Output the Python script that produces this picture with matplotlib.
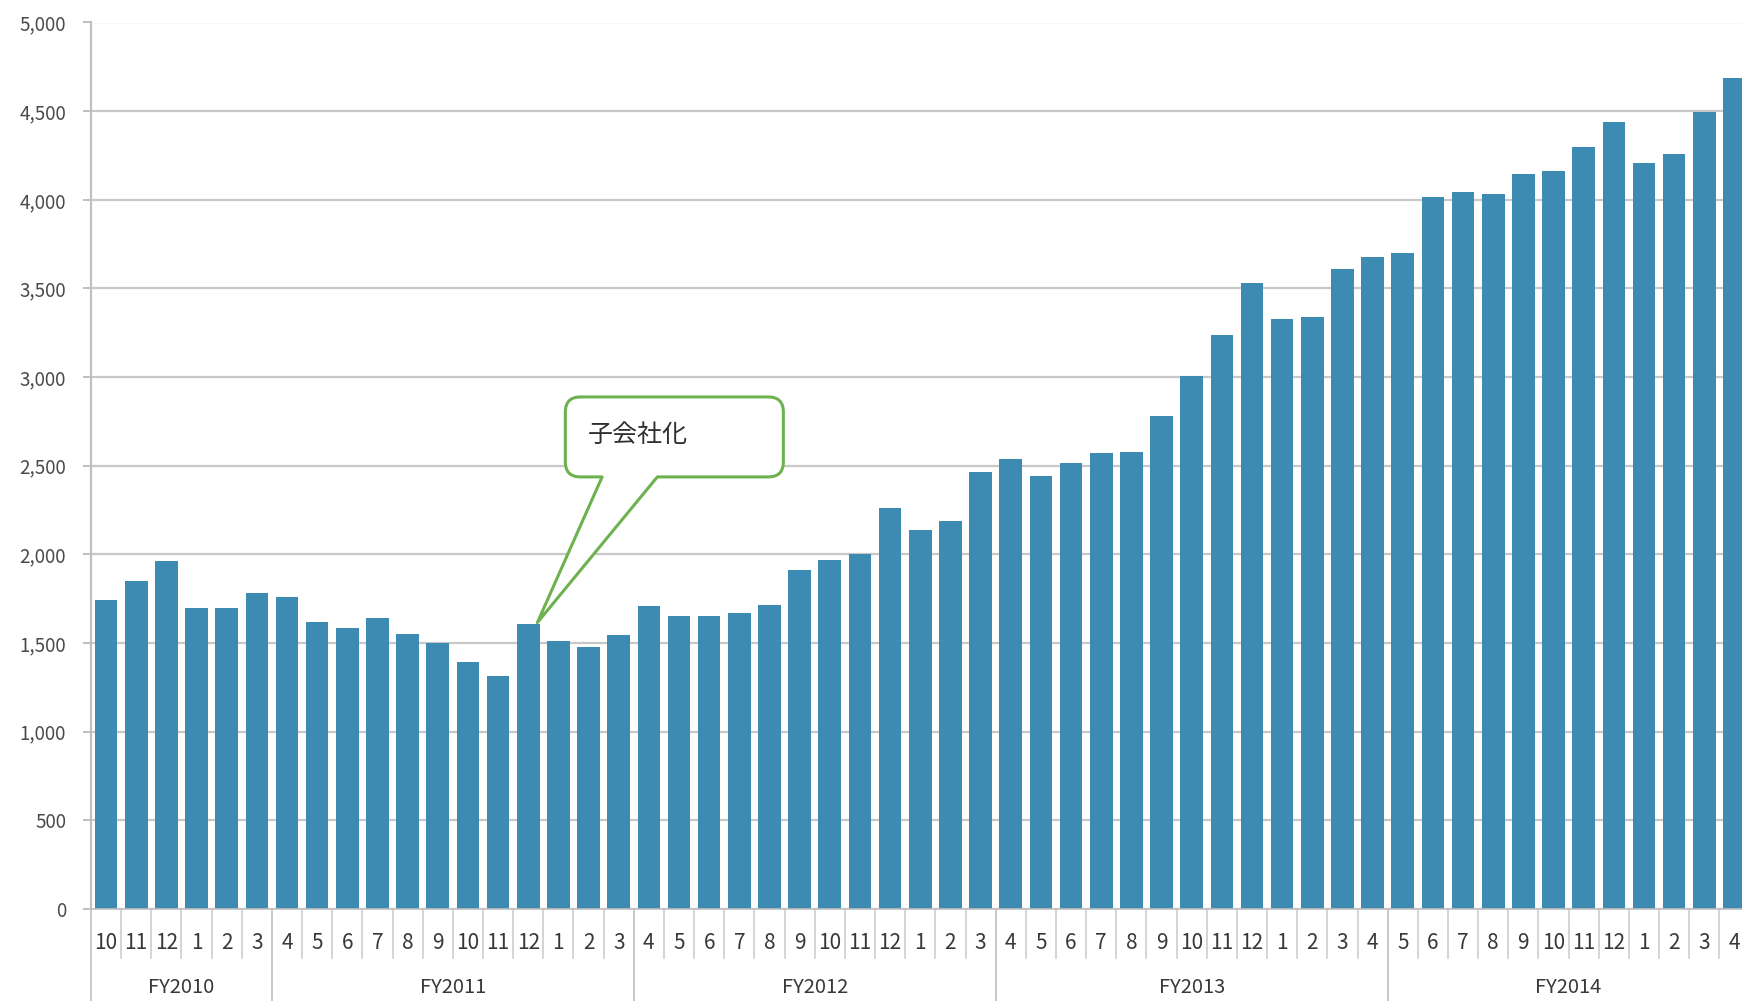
import numpy as np
import matplotlib
matplotlib.use('Agg')
import matplotlib.pyplot as plt
from matplotlib.path import Path
from matplotlib.patches import PathPatch

plt.rcParams['font.family'] = ['Noto Sans CJK JP', 'DejaVu Sans']

# monthly values, Oct 2010 .. Apr 2015
months = ['10', '11', '12', '1', '2', '3',
          '4', '5', '6', '7', '8', '9', '10', '11', '12', '1', '2', '3',
          '4', '5', '6', '7', '8', '9', '10', '11', '12', '1', '2', '3',
          '4', '5', '6', '7', '8', '9', '10', '11', '12', '1', '2', '3', '4',
          '5', '6', '7', '8', '9', '10', '11', '12', '1', '2', '3', '4']
values = [1740, 1850, 1960, 1700, 1700, 1780,
          1760, 1620, 1585, 1640, 1550, 1500, 1395, 1315, 1610, 1510, 1475, 1545,
          1710, 1650, 1650, 1670, 1715, 1910, 1970, 2005, 2260, 2140, 2190, 2465,
          2540, 2440, 2515, 2570, 2575, 2780, 3005, 3235, 3530, 3325, 3340, 3610, 3680,
          3700, 4015, 4045, 4035, 4145, 4165, 4295, 4440, 4205, 4260, 4495, 4685]
fiscal_years = ['FY2010', 'FY2011', 'FY2012', 'FY2013', 'FY2014']
fy_sizes = [6, 12, 12, 13, 12]

callout_text = '子会社化'
callout_index = 14  # FY2011 / 12

bar_color = '#3d8ab2'
grid_color = '#c8c8c8'
sep_color = '#d2cccc'
green = '#6db24f'

fig = plt.figure(figsize=(17.42, 10.01), dpi=100)
ax = fig.add_axes([91 / 1742, 92 / 1001, 1 - 91 / 1742, 886.5 / 1001])

x = np.arange(len(values))
ax.bar(x, values, width=0.75, color=bar_color, zorder=2)

ax.set_ylim(0, 5000)
ax.set_xlim(-0.5, 54.25)
ax.set_yticks(np.arange(0, 5001, 500))
ax.set_yticklabels([f'{v:,}' for v in range(0, 5001, 500)])
ax.yaxis.grid(True, color=grid_color, lw=1.6)
ax.set_axisbelow(True)

for s in ['top', 'right']:
    ax.spines[s].set_visible(False)
ax.spines['left'].set_color('#c0c0c0')
ax.spines['left'].set_linewidth(1.6)
ax.spines['bottom'].set_color('#c0c0c0')
ax.spines['bottom'].set_linewidth(1.2)

ax.tick_params(axis='y', length=6, width=1.4, color='#c0c0c0',
               labelsize=13.5, labelcolor='#4a4a4a', pad=12)

# month labels (first level)
ax.set_xticks(x)
ax.set_xticklabels(months)
ax.tick_params(axis='x', length=0, labelsize=15, labelcolor='#383838', pad=24.5)
for lbl in ax.get_xticklabels():
    lbl.set_va('center')

# separators and fiscal year labels (second level)
trans = ax.get_xaxis_transform()
edges = np.concatenate([[0], np.cumsum(fy_sizes)]) - 0.5
for k in range(1, len(values)):
    if k - 0.5 not in edges:
        ax.plot([k - 0.5, k - 0.5], [0, -0.0553], transform=trans,
                color=sep_color, lw=1.2, clip_on=False)
for e in edges[:-1]:
    ax.plot([e, e], [0, -0.11], transform=trans,
            color='#c8c8c8', lw=1.4, clip_on=False)
for name, a, b in zip(fiscal_years, edges[:-1], edges[1:]):
    ax.text((a + b) / 2, -0.088, name, transform=trans, ha='center', va='center',
            fontsize=14.5, color='#383838')

# callout box with tail
x0, x1, y0, y1 = 15.23, 22.46, 2437, 2888
rx, ry = 0.5, 85
tail_l, tail_r = 16.45, 18.28
tip = (callout_index + 0.3, values[callout_index] + 5)
verts = [(x0 + rx, y1), (x1 - rx, y1),
         (x1, y1), (x1, y1 - ry),
         (x1, y0 + ry),
         (x1, y0), (x1 - rx, y0),
         (tail_r, y0), tip, (tail_l, y0),
         (x0 + rx, y0),
         (x0, y0), (x0, y0 + ry),
         (x0, y1 - ry),
         (x0, y1), (x0 + rx, y1),
         (x0 + rx, y1)]
codes = [Path.MOVETO, Path.LINETO,
         Path.CURVE3, Path.CURVE3,
         Path.LINETO,
         Path.CURVE3, Path.CURVE3,
         Path.LINETO, Path.LINETO, Path.LINETO,
         Path.LINETO,
         Path.CURVE3, Path.CURVE3,
         Path.LINETO,
         Path.CURVE3, Path.CURVE3,
         Path.CLOSEPOLY]
ax.add_patch(PathPatch(Path(verts, codes), facecolor='white', edgecolor=green,
                       lw=2.2, zorder=4, joinstyle='round'))
ax.text(15.96, 2673, callout_text, ha='left', va='center', fontsize=18,
        color='#303030', zorder=5)

fig.savefig('out.png', dpi=100)
